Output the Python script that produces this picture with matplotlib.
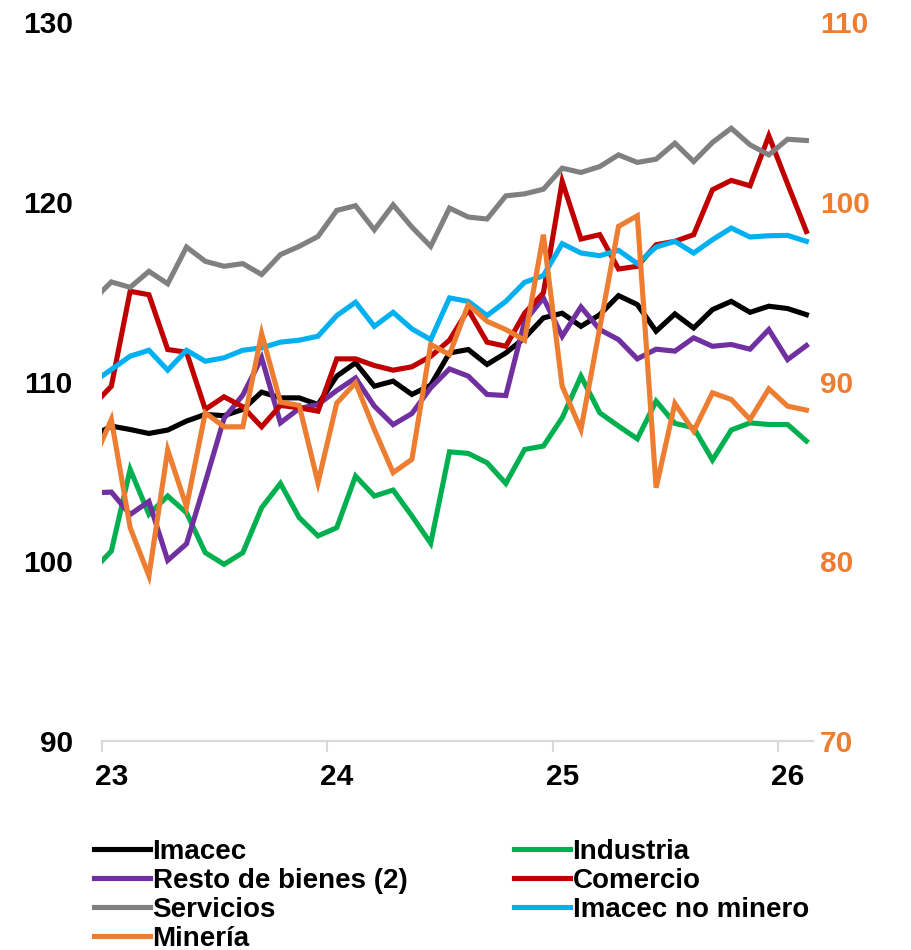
import numpy as np
import matplotlib.pyplot as plt

plt.rcParams['font.family'] = ['Liberation Sans', 'DejaVu Sans']
plt.rcParams['font.weight'] = 'bold'

# monthly index: -1 = Dec 2022, 0 = Jan 2023 ... 37 = Feb 2026
months = np.arange(-1, 38)
year_labels = ["23", "24", "25", "26"]

imacec = [106.96, 107.52, 107.33, 107.11, 107.30, 107.80, 108.17, 108.10, 108.45, 109.41,
          109.09, 109.09, 108.72, 110.30, 111.04, 109.74, 110.02, 109.28, 109.80, 111.59,
          111.78, 110.95, 111.59, 112.43, 113.54, 113.80, 113.07, 113.72, 114.78, 114.28,
          112.80, 113.76, 112.98, 114.00, 114.46, 113.85, 114.19, 114.06, 113.72]
industria = [99.47, 100.57, 105.11, 102.61, 103.63, 102.70, 100.48, 99.83, 100.48, 102.98,
             104.33, 102.43, 101.41, 101.87, 104.74, 103.63, 103.96, 102.52, 101.00, 106.09,
             106.00, 105.48, 104.33, 106.22, 106.41, 107.98, 110.30, 108.26, 107.52, 106.81,
             108.91, 107.67, 107.43, 105.63, 107.30, 107.70, 107.61, 107.61, 106.69]
resto = [103.80, 103.85, 102.60, 103.33, 100.05, 100.97, 104.40, 107.95, 109.25, 111.32,
         107.70, 108.50, 108.72, 109.50, 110.20, 108.63, 107.60, 108.22, 109.65, 110.70,
         110.30, 109.28, 109.22, 113.35, 114.65, 112.52, 114.15, 112.89, 112.33, 111.26,
         111.80, 111.69, 112.43, 111.96, 112.06, 111.80, 112.89, 111.22, 112.00]
comercio = [108.64, 109.74, 115.02, 114.83, 111.78, 111.63, 108.45, 109.15, 108.59, 107.48,
            108.67, 108.54, 108.35, 111.26, 111.26, 110.89, 110.63, 110.82, 111.40, 112.30,
            114.00, 112.19, 111.96, 113.80, 114.93, 121.13, 117.93, 118.17, 116.26, 116.41,
            117.61, 117.80, 118.17, 120.67, 121.19, 120.89, 123.67, 120.99, 118.35]
servicios = [114.50, 115.54, 115.24, 116.13, 115.44, 117.48, 116.69, 116.41, 116.56, 115.95,
             117.06, 117.52, 118.07, 119.52, 119.78, 118.44, 119.83, 118.59, 117.52, 119.65,
             119.15, 119.04, 120.33, 120.44, 120.70, 121.87, 121.63, 121.96, 122.61, 122.19,
             122.37, 123.26, 122.24, 123.30, 124.09, 123.17, 122.61, 123.48, 123.41]
no_minero = [109.93, 110.67, 111.41, 111.74, 110.63, 111.74, 111.13, 111.32, 111.74, 111.87,
             112.19, 112.30, 112.52, 113.67, 114.41, 113.07, 113.85, 112.93, 112.33, 114.65,
             114.46, 113.67, 114.46, 115.52, 115.89, 117.67, 117.15, 117.00, 117.30, 116.56,
             117.48, 117.80, 117.15, 117.89, 118.54, 118.04, 118.11, 118.13, 117.80]
# right axis
mineria = [85.49, 87.89, 81.87, 79.19, 86.19, 83.04, 88.26, 87.48, 87.48, 92.67,
           88.85, 88.67, 84.37, 88.80, 89.93, 87.33, 84.93, 85.67, 92.06, 91.50,
           94.28, 93.35, 92.89, 92.30, 98.17, 89.74, 87.33, 92.98, 98.63, 99.22,
           84.09, 88.78, 87.24, 89.37, 89.00, 87.89, 89.59, 88.63, 88.41]

ORANGE = '#ED7D31'
LW = 3.7

fig = plt.figure(figsize=(9.12, 9.5), dpi=100)
ax = fig.add_axes([0.1118, 0.22, 0.7796, 0.7568])
ax2 = ax.twinx()

left_series = [
    ("Imacec", imacec, "#000000"),
    ("Industria", industria, "#00B050"),
    ("Resto de bienes (2)", resto, "#7030A0"),
    ("Comercio", comercio, "#C00000"),
    ("Servicios", servicios, "#808080"),
    ("Imacec no minero", no_minero, "#00B0F0"),
]
handles = {}
for name, vals, col in left_series:
    handles[name], = ax.plot(months, vals, color=col, lw=LW, solid_joinstyle='miter')
handles["Minería"], = ax2.plot(months, mineria, color=ORANGE, lw=LW, solid_joinstyle='miter')

ax.set_xlim(-0.5, 37.35)
ax.set_ylim(90, 130)
ax2.set_ylim(70, 110)
ax.set_yticks([90, 100, 110, 120, 130])
ax2.set_yticks([70, 80, 90, 100, 110])

# year boundary ticks, labels centred on January
ax.set_xticks([-0.5, 11.5, 23.5, 35.5])
ax.set_xticklabels([])
ax.set_xticks([0, 12, 24, 36], minor=True)
ax.set_xticklabels(year_labels, minor=True)
ax.tick_params(axis='x', which='major', length=8, width=1.5, color='#D9D9D9', direction='out')
ax.tick_params(axis='x', which='minor', length=0, pad=16, labelsize=21.5)
ax.tick_params(axis='y', length=0, pad=21, labelsize=21.5)
ax2.tick_params(axis='y', length=0, pad=5, labelsize=21.5, labelcolor=ORANGE)

for a in (ax, ax2):
    for s in ('left', 'right', 'top'):
        a.spines[s].set_visible(False)
    a.spines['bottom'].set_color('#D9D9D9')
    a.spines['bottom'].set_linewidth(1.5)

order = ["Imacec", "Resto de bienes (2)", "Servicios", "Minería",
         "Industria", "Comercio", "Imacec no minero"]
fig.legend([handles[n] for n in order], order, loc='upper left',
           bbox_to_anchor=(0.1033, 0.117), ncol=2, frameon=False, fontsize=20,
           handlelength=2.0, handletextpad=0.1, columnspacing=3.85,
           labelspacing=0.11, borderpad=0, borderaxespad=0)

fig.savefig("out.png", dpi=100)
